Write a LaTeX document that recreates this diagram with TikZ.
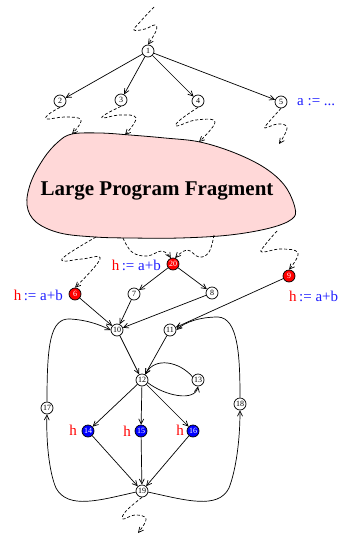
\documentclass[tikz,border=0pt]{standalone}
\usepackage{fontspec}
\setmainfont{Liberation Serif}
\usetikzlibrary{arrows.meta}
\definecolor{blobpink}{RGB}{255,216,216}
\definecolor{hred}{RGB}{255,0,0}
\definecolor{hblue}{RGB}{30,30,255}
\begin{document}
\begin{tikzpicture}[x=1pt,y=-1pt,
 v/.style={circle,draw,line width=0.7pt,minimum size=12pt,inner sep=0pt,font=\fontsize{8}{8}\selectfont},
 rv/.style={v,fill=red,text=white},
 bv/.style={v,fill=blue,text=white},
 e/.style={line width=0.7pt,-{Straight Barb[length=5pt,width=5pt]}},
 w/.style={e,dash pattern=on 3pt off 2pt},
 lab/.style={font=\fontsize{15}{16}\selectfont,inner sep=0pt},
]
\useasboundingbox (0,0) rectangle (345,535);

% blob
\draw[fill=blobpink,line width=0.8pt] plot[smooth cycle,tension=0.6] coordinates {
 (72,134) (100,133) (130,135) (165,138) (200,142) (235,153) (265,168) (285,186)
 (295,208) (292,219) (270,228) (230,235) (180,238) (130,238) (95,237) (60,233)
 (36,222) (27,205) (31,182) (44,158) (58,142)};
\node[font=\fontsize{21}{24}\bfseries\selectfont] (lpf) at (157,191) {Large Program Fragment};

% coordinates
\coordinate (top) at (154,7);
\coordinate (b2) at (72,134);
\coordinate (b3) at (125,135);
\coordinate (b4) at (199,142);
\coordinate (e5) at (279,144);
\coordinate (s6) at (96,237);
\coordinate (s20a) at (123,238);
\coordinate (s20b) at (214,235);
\coordinate (s9) at (277,231);
\coordinate (bot) at (138,533);

% nodes
\node[v] (n1) at (148,51) {1};
\node[v] (n2) at (60,101) {2};
\node[v] (n3) at (121,100) {3};
\node[v] (n4) at (198,101) {4};
\node[v] (n5) at (281,102) {5};
\node[rv] (n20) at (173,264) {20};
\node[rv] (n6) at (75,294) {6};
\node[v] (n7) at (134,294) {7};
\node[v] (n8) at (212,293) {8};
\node[rv] (n9) at (289,276) {9};
\node[v] (n10) at (117,330) {10};
\node[v] (n11) at (170,330) {11};
\node[v] (n12) at (142,380) {12};
\node[v] (n13) at (198,380) {13};
\node[v] (n17) at (47,408) {17};
\node[v] (n18) at (240,404) {18};
\node[bv] (n14) at (88,431) {14};
\node[bv] (n15) at (141,431) {15};
\node[bv] (n16) at (193,431) {16};
\node[v] (n19) at (142,491) {19};

% labels
\node[lab,anchor=west,text=hblue] (la) at (297,102) {a := ...};
\node[lab,anchor=east] (l20) at (161,265) {\textcolor{hred}{h}\textcolor{hblue}{\,:= a+b}};
\node[lab,anchor=east] (l6) at (63,295) {\textcolor{hred}{h}\textcolor{hblue}{\,:= a+b}};
\node[lab,anchor=west] (l9) at (289,296) {\textcolor{hred}{h}\textcolor{hblue}{\,:= a+b}};
\node[lab,text=hred] (h14) at (73,430) {h};
\node[lab,text=hred] (h15) at (127,431) {h};
\node[lab,text=hred] (h16) at (180,430) {h};

% solid edges
\draw[e] (n1) -- (n2);
\draw[e] (n1) -- (n3);
\draw[e] (n1) -- (n4);
\draw[e] (n1) -- (n5);
\draw[e] (n20) -- (n7);
\draw[e] (n20) -- (n8);
\draw[e] (n6) -- (n10);
\draw[e] (n7) -- (n10);
\draw[e] (n8) -- (n10);
\draw[e] (n9) -- (n11);
\draw[e] (n10) -- (n12);
\draw[e] (n11) -- (n12);
\draw[e] (n12) -- (n14);
\draw[e] (n12) -- (n15);
\draw[e] (n12) -- (n16);
\draw[e] (n14) -- (n19);
\draw[e] (n15) -- (n19);
\draw[e] (n16) -- (n19);
\draw[e] (n12.-25) .. controls (165,396) and (195,402) .. (n13.south);
\draw[e] (n13.150) .. controls (180,362) and (155,356) .. (n12.60);
\draw[e] (n19.190) .. controls (100,500) and (68,510) .. (56,488) .. controls (49,472) and (46,440) .. (n17.south);
\draw[e] (n17.north) .. controls (47,345) and (50,318) .. (70,319) .. controls (88,320) and (100,325) .. (n10.west);
\draw[e] (n19.-10) .. controls (185,500) and (218,510) .. (229,488) .. controls (236,470) and (240,440) .. (n18.south);
\draw[e] (n18.north) .. controls (240,355) and (238,318) .. (218,317) .. controls (200,317) and (185,322) .. (n11.east);

% dashed wiggles
\draw[w] plot[smooth,tension=0.7] coordinates {(top) (140,22) (134,30) (145,29) (155,25) (156,31) (n1.north)};
\draw[w] plot[smooth,tension=0.7] coordinates {(n2.south) (49,114) (47,119) (65,117) (81,120) (b2)};
\draw[w] plot[smooth,tension=0.7] coordinates {(n3.south) (106,114) (103,118) (120,115) (136,118) (b3)};
\draw[w] plot[smooth,tension=0.7] coordinates {(n4.south) (180,120) (177,126) (196,120) (215,122) (b4)};
\draw[w] plot[smooth,tension=0.7] coordinates {(n5.south) (268,123) (265,128) (278,124) (287,128) (e5)};
\draw[w] plot[smooth,tension=0.7] coordinates {(s6) (68,254) (63,261) (82,259) (100,259) (n6.north)};
\draw[w] plot[smooth,tension=0.7] coordinates {(s20a) (132,252) (147,256) (162,251) (n20.110)};
\draw[w] plot[smooth,tension=0.7] coordinates {(s20b) (209,252) (199,257) (187,250) (n20.70)};
\draw[w] plot[smooth,tension=0.7] coordinates {(s9) (265,245) (262,252) (281,249) (298,253) (n9.north)};
\draw[w] plot[smooth,tension=0.7] coordinates {(n19.south) (126,511) (123,519) (135,515) (146,519) (bot)};
\end{tikzpicture}
\end{document}
